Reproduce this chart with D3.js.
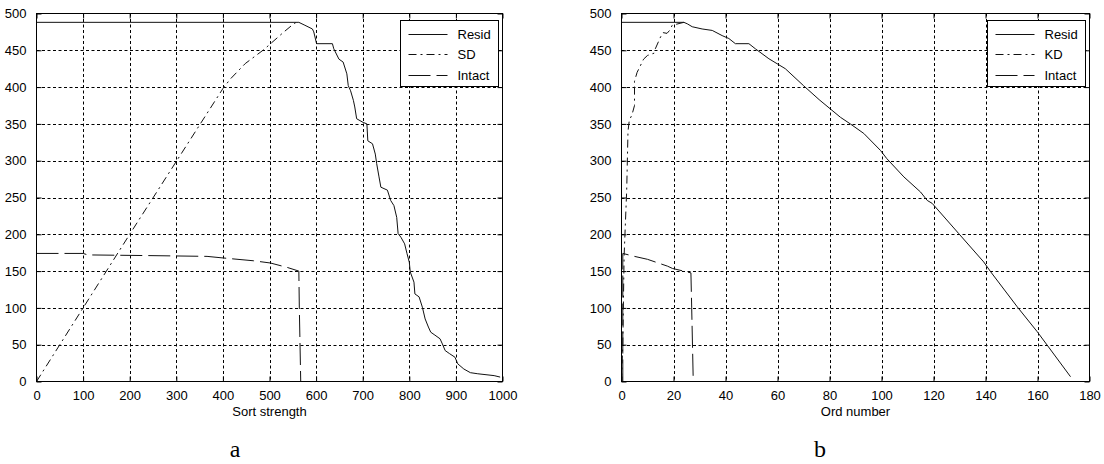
<!DOCTYPE html>
<html>
<head>
<meta charset="utf-8">
<script src="https://cdn.jsdelivr.net/npm/d3@7"></script>
<style>
  body { margin: 0; background: #fff; }
  svg text { font-family: "Liberation Sans", Arial, sans-serif; }
</style>
</head>
<body>
<div id="chart"></div>
<script>
(function(){

  var width = 1104, height = 464;

  // panel a : Sort strength
  var xTicksA = [0,100,200,300,400,500,600,700,800,900,1000];
  var residA = [[0,488],[555,488],[563,488],[576,484],[592,479],[595,475],[601,459],[635,459],[638,452],[649,438],
    [658,434],[666,418],[669,402],[674,395],[680,382],[683,373],[687,357],[701,352],[709,350],[711,327],[721,323],
    [727,309],[730,296],[735,278],[739,264],[753,260],[760,246],[767,239],[773,223],[776,201],[782,196],[790,187],
    [795,174],[800,162],[802,149],[810,135],[812,119],[821,115],[828,101],[834,85],[841,74],[846,67],[855,63],
    [866,58],[871,51],[877,42],[886,38],[898,33],[904,24],[917,17],[931,12],[947,10.5],[982,8],[995,6]];
  var sdA = [[0,0],[100,100],[200,200],[300,299],[400,398],[416,411],[448,432],[488,451],[531,475],[552,486],[560,489]];
  var intactA = [[0,174],[100,174],[110,172],[250,171],[366,170],[398,168],[466,164],[502,161],[538,155],[563,150],[564,100],[567,0]];

  // panel b : Ord number
  var xTicksB = [0,20,40,60,80,100,120,140,160,180];
  var residB = [[0,488],[24,488],[25.3,486],[27.2,482],[31,479],[34.9,477],[38.7,470],[41.3,466],[43.8,459],[49,459],
    [51.5,452],[56.7,438.5],[63,425],[70,402],[76,383],[84.2,359],[88,350],[93.2,337],[99.6,314],[102,303],
    [108.6,278],[115,257.5],[117.6,246],[119.5,242],[129.7,201],[139.3,162.5],[142,149],[152.2,101.5],
    [159.9,67.6],[163.7,49.5],[172.7,6.5]];
  var kdB = [[0,0],[0.5,50],[1,170],[2,260],[2.5,340],[3,355],[4,362],[5,375],[5,408],[6,420],[8.5,438],[10,443],
    [12.5,446],[13,452],[15,468],[16,474],[17.5,473],[18.5,477],[19.5,484],[24,488]];
  var intactB = [[0.5,0],[0.5,174],[5,170],[10,166],[17.7,156.7],[19.6,153.6],[26.7,147.6],[27,100],[27.6,0]];

  var yTicks = [0,50,100,150,200,250,300,350,400,450,500];

  var svg = d3.select("#chart").append("svg")
      .attr("width", width)
      .attr("height", height);

  var styles = {
    solid: null,
    dashdot: "8,4,2,4",
    dashed: "22,6"
  };

  drawPanel({left: 36.5, right: 502.5, top: 13.5, bottom: 381.5,
    xDomain: [0,1000], xTicks: xTicksA, xLabel: "Sort strength", letter: "a", letterX: 235,
    series: [
      {name: "Resid", data: residA, style: "solid"},
      {name: "SD", data: sdA, style: "dashdot"},
      {name: "Intact", data: intactA, style: "dashed"}
    ]});

  drawPanel({left: 621.5, right: 1089.5, top: 13.5, bottom: 381.5,
    xDomain: [0,180], xTicks: xTicksB, xLabel: "Ord number", letter: "b", letterX: 820,
    series: [
      {name: "Resid", data: residB, style: "solid"},
      {name: "KD", data: kdB, style: "dashdot"},
      {name: "Intact", data: intactB, style: "dashed"}
    ]});

  function drawPanel(p){

    var x = d3.scaleLinear().domain(p.xDomain).range([p.left, p.right]);
    var y = d3.scaleLinear().domain([0,500]).range([p.bottom, p.top]);

    var g = svg.append("g");

    // grid
    g.selectAll(".vgrid")
        .data(p.xTicks.slice(1, -1))
      .enter().append("line")
        .attr("x1", function(d){ return Math.round(x(d)) + 0.5; })
        .attr("x2", function(d){ return Math.round(x(d)) + 0.5; })
        .attr("y1", p.top)
        .attr("y2", p.bottom)
        .attr("stroke", "#000")
        .attr("stroke-dasharray", "3,2.5");

    g.selectAll(".hgrid")
        .data(yTicks.slice(1, -1))
      .enter().append("line")
        .attr("y1", function(d){ return Math.round(y(d)) + 0.5; })
        .attr("y2", function(d){ return Math.round(y(d)) + 0.5; })
        .attr("x1", p.left)
        .attr("x2", p.right)
        .attr("stroke", "#000")
        .attr("stroke-dasharray", "3,2.5");

    // inward ticks on all four sides
    var fmt = d3.format("d");
    var xAxisB = d3.axisBottom(x).tickValues(p.xTicks).tickFormat(fmt).tickSizeInner(-5).tickSizeOuter(0).tickPadding(9);
    var xAxisT = d3.axisTop(x).tickValues(p.xTicks).tickSizeInner(-5).tickSizeOuter(0).tickFormat("");
    var yAxisL = d3.axisLeft(y).tickValues(yTicks).tickFormat(fmt).tickSizeInner(-5).tickSizeOuter(0).tickPadding(10);
    var yAxisR = d3.axisRight(y).tickValues(yTicks).tickSizeInner(-5).tickSizeOuter(0).tickFormat("");

    [[xAxisB, "translate(0," + p.bottom + ")"], [xAxisT, "translate(0," + p.top + ")"],
     [yAxisL, "translate(" + p.left + ",0)"], [yAxisR, "translate(" + p.right + ",0)"]].forEach(function(a){
      var ax = g.append("g").attr("transform", a[1]).call(a[0]);
      ax.select(".domain").remove();
      ax.selectAll("text")
        .attr("font-family", "Liberation Sans, Arial, sans-serif")
        .attr("font-size", 13)
        .attr("fill", "#000");
    });

    // curves
    var line = d3.line()
        .x(function(d){ return x(d[0]); })
        .y(function(d){ return y(d[1]); });

    p.series.forEach(function(s){
      g.append("path")
          .datum(s.data)
          .attr("d", line)
          .attr("fill", "none")
          .attr("stroke", "#111")
          .attr("stroke-width", 1)
          .attr("stroke-dasharray", styles[s.style]);
    });

    // frame
    g.append("rect")
        .attr("x", p.left)
        .attr("y", p.top)
        .attr("width", p.right - p.left)
        .attr("height", p.bottom - p.top)
        .attr("fill", "none")
        .attr("stroke", "#000");

    // legend
    var lw = 98, lh = 66;
    var lx = Math.round(p.right - 5 - lw) + 0.5, ly = p.top + 7;
    var lg = g.append("g");
    lg.append("rect")
        .attr("x", lx).attr("y", ly)
        .attr("width", lw).attr("height", lh)
        .attr("fill", "#fff")
        .attr("stroke", "#000");

    p.series.forEach(function(s, i){
      var yy = Math.round(ly + 13 + i * 20.5) + 0.5;
      lg.append("line")
          .attr("x1", lx + 8).attr("x2", lx + 47)
          .attr("y1", yy).attr("y2", yy)
          .attr("stroke", "#111")
          .attr("stroke-dasharray", styles[s.style]);
      lg.append("text")
          .attr("x", lx + 57)
          .attr("y", yy + 4.5)
          .attr("font-size", 13)
          .text(s.name);
    });

    // labels
    svg.append("text")
        .attr("x", (p.left + p.right) / 2)
        .attr("y", p.bottom + 34)
        .attr("text-anchor", "middle")
        .attr("font-size", 13)
        .text(p.xLabel);

    svg.append("text")
        .attr("x", p.letterX)
        .attr("y", 457)
        .attr("text-anchor", "middle")
        .style("font-family", "'Liberation Serif', 'DejaVu Serif', serif")
        .attr("font-size", 24)
        .text(p.letter);
  }

})();
</script>
</body>
</html>
